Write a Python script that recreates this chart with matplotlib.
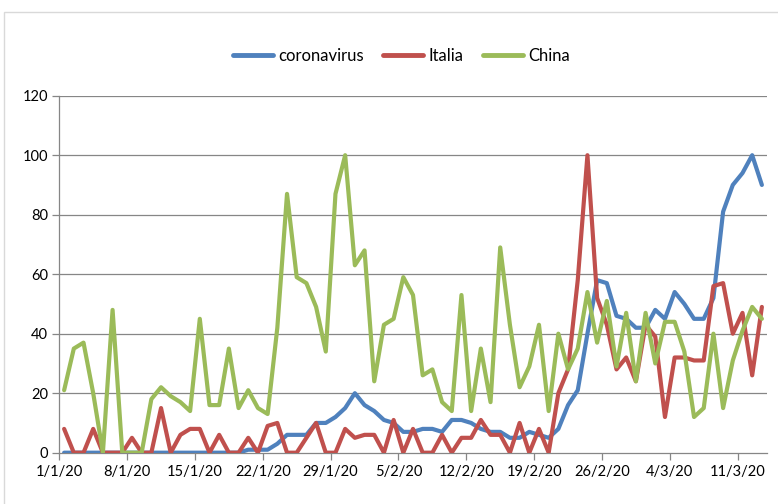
import numpy as np
import matplotlib
matplotlib.use("Agg")
import matplotlib.pyplot as plt
from matplotlib.patches import Rectangle

# Google Trends style interest, daily from 1/1/20 to 13/3/20
coronavirus = [0, 0, 0, 0, 0, 0, 0, 0, 0, 0, 0, 0, 0, 0, 0, 0, 0, 0, 0, 1,
               1, 1, 3, 6, 6, 6, 10, 10, 12, 15, 20, 16, 14, 11, 10, 7, 7, 8, 8, 7,
               11, 11, 10, 8, 7, 7, 5, 5, 7, 6, 5, 8, 16, 21, 40, 58, 57, 46, 45, 42,
               42, 48, 45, 54, 50, 45, 45, 52, 81, 90, 94, 100, 90]
italia = [8, 0, 0, 8, 0, 0, 0, 5, 0, 0, 15, 0, 6, 8, 8, 0, 6, 0, 0, 5,
          0, 9, 10, 0, 0, 5, 10, 0, 0, 8, 5, 6, 6, 0, 11, 0, 8, 0, 0, 6,
          0, 5, 5, 11, 6, 6, 0, 10, 0, 8, 0, 20, 28, 58, 100, 52, 43, 28, 32, 24,
          43, 39, 12, 32, 32, 31, 31, 56, 57, 40, 47, 26, 49]
china = [21, 35, 37, 20, 0, 48, 0, 0, 0, 18, 22, 19, 17, 14, 45, 16, 16, 35, 15, 21,
         15, 13, 42, 87, 59, 57, 49, 34, 87, 100, 63, 68, 24, 43, 45, 59, 53, 26, 28, 17,
         14, 53, 14, 35, 17, 69, 43, 22, 29, 43, 14, 40, 28, 35, 54, 37, 51, 29, 47, 24,
         47, 30, 44, 44, 34, 12, 15, 40, 15, 31, 41, 49, 45]

tick_labels = ["1/1/20", "8/1/20", "15/1/20", "22/1/20", "29/1/20", "5/2/20",
               "12/2/20", "19/2/20", "26/2/20", "4/3/20", "11/3/20"]

n = len(coronavirus)
x = np.arange(n) + 0.5

plt.rcParams['font.family'] = ['Lato', 'DejaVu Sans']

fig = plt.figure(figsize=(7.78, 5.04), dpi=100)
ax = fig.add_axes([0.0762, 0.1018, 0.9093, 0.7083])

# light chart-area border
fig.patches.append(Rectangle((4 / 778, -0.1), 1.2, 1 - 12 / 504 + 0.1,
                             transform=fig.transFigure, fill=False,
                             edgecolor="#D9D9D9", linewidth=1.0))

grid_col = "#868686"
for v in range(20, 121, 20):
    ax.axhline(v, color=grid_col, linewidth=0.9, zorder=1)

ax.plot(x, coronavirus, color="#4F81BD", lw=3.0, label="coronavirus",
        solid_joinstyle="round", solid_capstyle="round", zorder=3)
ax.plot(x, italia, color="#C0504D", lw=3.0, label="Italia",
        solid_joinstyle="round", solid_capstyle="round", zorder=3)
ax.plot(x, china, color="#9BBB59", lw=3.0, label="China",
        solid_joinstyle="round", solid_capstyle="round", zorder=3)

ax.set_xlim(0, n)
ax.set_ylim(0, 120)
ax.set_xticks(np.arange(0, 71, 7))
ax.set_xticklabels(tick_labels)
ax.set_yticks(range(0, 121, 20))

for s in ["top", "right"]:
    ax.spines[s].set_visible(False)
for s in ["left", "bottom"]:
    ax.spines[s].set_color(grid_col)
    ax.spines[s].set_linewidth(0.9)
ax.tick_params(axis="both", direction="out", length=5, width=0.9,
               color=grid_col, labelsize=10.5, labelcolor="black")
ax.tick_params(axis="x", pad=4)
ax.tick_params(axis="y", pad=3)

leg = fig.legend(loc="center", bbox_to_anchor=(0.516, 0.889), ncol=3, frameon=False,
                 fontsize=12, handlelength=2.4, handletextpad=0.3, columnspacing=1.2)
for line in leg.get_lines():
    line.set_linewidth(3.5)

fig.savefig("out.png", dpi=100)
